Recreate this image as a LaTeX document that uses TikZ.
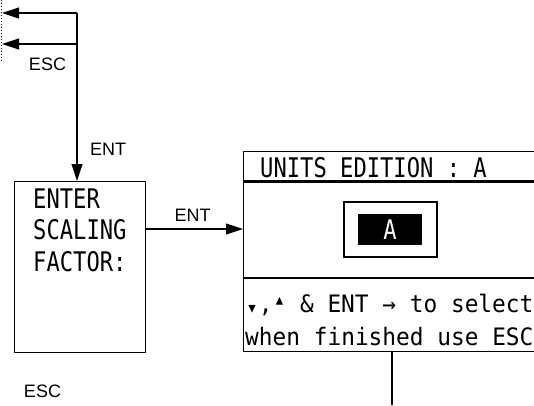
\documentclass[tikz,border=0pt]{standalone}
\usepackage{fontspec}
\setmainfont{Liberation Sans}
\newfontfamily\lcdfont[FakeStretch=0.82]{DejaVu Sans Mono}
\newfontfamily\lcdwide[FakeStretch=0.95]{DejaVu Sans Mono}
\newcommand{\lcdchar}[2]{\makebox[13.7pt]{\raisebox{#1}{\fontsize{20}{20}\selectfont #2}}}
\usetikzlibrary{arrows.meta,positioning,calc}

\begin{document}
\begin{tikzpicture}[
  x=1pt, y=-1pt,
  font=\fontsize{18}{20}\selectfont,
  frame/.style={draw=black, line width=1.1pt, inner sep=0pt, anchor=north west},
  lcd/.style={inner sep=0pt, anchor=base west, font=\lcdfont\fontsize{27}{30}\selectfont},
  lcdsm/.style={inner sep=0pt, anchor=base west, font=\lcdwide\fontsize{24}{28}\selectfont},
  key/.style={inner sep=0pt},
  arr/.style={draw=black, line width=1.1pt, -{Triangle[length=17pt,width=11pt]}},
  wire/.style={draw=black, line width=1.1pt},
  sep/.style={draw=black, line width=2.6pt}
]
\useasboundingbox (0,0) rectangle (534,405);
\clip (0,0) rectangle (534,405);

% scaling factor screen
\node[frame, minimum width=131pt, minimum height=171pt] (scale) at (14,181) {};
\node[lcd] (scl1) at (33,208) {ENTER};
\node[lcd] (scl2) at (33,239.5) {SCALING};
\node[lcd] (scl3) at (33,271) {FACTOR:};

% units edition screen
\node[frame, minimum width=320pt, minimum height=31pt] (unitshead) at (243,151) {};
\node[frame, minimum width=320pt, minimum height=170pt] (units) at (243,181) {};
\draw[sep] (units.north west) -- (units.north east);
\draw[sep] (units.west |- 0,278) -- (units.east |- 0,278);
\node[lcd] (headtxt) at (260,177) {UNITS EDITION : A};
\node[draw=black, line width=2pt, minimum width=93pt, minimum height=55pt, inner sep=0pt] (selbox) at (390.5,229.5) {};
\node[fill=black, text=white, minimum width=64pt, minimum height=31pt, inner sep=0pt,
      font=\lcdfont\fontsize{27}{30}\selectfont] (selval) at (390,229.5) {A};
\node[lcdsm] (hint1) at (245,312) {\lcdchar{-2pt}{▾},\lcdchar{6pt}{▴} \& ENT → to select};
\node[lcdsm] (hint2) at (245,345) {when finished use ESC};

% key labels
\node[key] (esctop) at (47.5,64.5) {ESC};
\node[key] (enttop) at (108,149.5) {ENT};
\node[key] (entmid) at (192.5,215) {ENT};
\node[key] (escbot) at (42.5,391.5) {ESC};

% connectors
\coordinate (j1) at (77,13);
\coordinate (j2) at (77,44);
\coordinate (back1) at (2,13);
\coordinate (back2) at (2,44);
\coordinate (down) at (392,405);
\draw[dotted, line width=1pt] (1,0) -- (1,62);
\draw[arr] (j1) -- (back1);
\draw[arr] (j2) -- (back2);
\draw[arr] (j1) -- (j1 |- scale.north);
\draw[arr] (scale.east |- 0,229) -- (units.west |- 0,229);
\draw[wire] (down |- units.south) -- (down);
\end{tikzpicture}
\end{document}
